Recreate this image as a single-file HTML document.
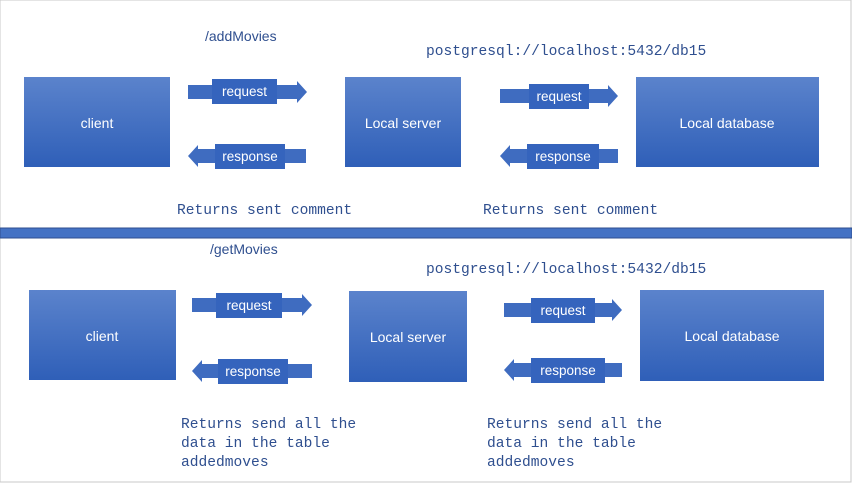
<!DOCTYPE html>
<html><head><meta charset="utf-8"><style>
body{margin:0;background:#fff}
svg{display:block}
.m{font-family:"Liberation Mono",monospace;font-size:14.6px;fill:#2f4f8f}
.s{font-family:"Liberation Sans",sans-serif;fill:#2f4f8f;font-size:14px}
.w{font-family:"Liberation Sans",sans-serif;fill:#fff;font-size:13.5px;text-anchor:middle}
.b{font-family:"Liberation Sans",sans-serif;fill:#fff;font-size:14px;text-anchor:middle}
</style></head><body>
<svg width="852" height="483" viewBox="0 0 852 483" xmlns="http://www.w3.org/2000/svg">
<defs>
<linearGradient id="g" x1="0" y1="0" x2="0" y2="1"><stop offset="0" stop-color="#5b83cc"/><stop offset="1" stop-color="#2f5fb8"/></linearGradient>
</defs>
<rect x="0" y="0" width="851" height="482" fill="#fff" stroke="#c8c8c8"/>
<rect x="0" y="228" width="852" height="10" fill="#4472c4" stroke="#2f4f8f" stroke-width="1"/>
<g fill="url(#g)">
<rect x="24" y="77" width="146" height="90"/>
<rect x="345" y="77" width="116" height="90"/>
<rect x="636" y="77" width="183" height="90"/>
<rect x="29" y="290" width="147" height="90"/>
<rect x="349" y="291" width="118" height="91"/>
<rect x="640" y="290" width="184" height="91"/>
</g>
<text class="b" x="97" y="128">client</text>
<text class="b" x="403" y="128">Local server</text>
<text class="b" x="727" y="128">Local database</text>
<text class="b" x="102" y="341">client</text>
<text class="b" x="408" y="342">Local server</text>
<text class="b" x="732" y="341">Local database</text>
<g fill="#3f6cc0">
<polygon points="188,85 297,85 297,81 307,92 297,103 297,99 188,99"/>
<polygon points="306,149 198,149 198,145 188,156 198,167 198,163 306,163"/>
<polygon points="500,89 608,89 608,85 618,96 608,107 608,103 500,103"/>
<polygon points="618,149 510,149 510,145 500,156 510,167 510,163 618,163"/>
<polygon points="192,298 302,298 302,294 312,305 302,316 302,312 192,312"/>
<polygon points="312,364 202,364 202,360 192,371 202,382 202,378 312,378"/>
<polygon points="504,303 612,303 612,299 622,310 612,321 612,317 504,317"/>
<polygon points="622,363 514,363 514,359 504,370 514,381 514,377 622,377"/>
</g>
<g fill="#3564bd">
<rect x="212" y="79" width="65" height="25"/>
<rect x="215" y="144" width="70" height="25"/>
<rect x="529" y="84" width="60" height="25"/>
<rect x="527" y="144" width="72" height="25"/>
<rect x="216" y="293" width="66" height="25"/>
<rect x="218" y="359" width="70" height="25"/>
<rect x="531" y="298" width="64" height="25"/>
<rect x="531" y="358" width="74" height="25"/>
</g>
<text class="w" x="244.5" y="96">request</text>
<text class="w" x="250" y="161">response</text>
<text class="w" x="559" y="101">request</text>
<text class="w" x="563" y="161">response</text>
<text class="w" x="249" y="310">request</text>
<text class="w" x="253" y="376">response</text>
<text class="w" x="563" y="315">request</text>
<text class="w" x="568" y="375">response</text>
<text class="s" x="205" y="41">/addMovies</text>
<text class="s" x="210" y="254">/getMovies</text>
<text class="m" x="426" y="55">postgresql://localhost:5432/db15</text>
<text class="m" x="426" y="273">postgresql://localhost:5432/db15</text>
<text class="m" x="177" y="214">Returns sent comment</text>
<text class="m" x="483" y="214">Returns sent comment</text>
<text class="m" x="181" y="428">Returns send all the</text>
<text class="m" x="181" y="447">data in the table</text>
<text class="m" x="181" y="466">addedmoves</text>
<text class="m" x="487" y="428">Returns send all the</text>
<text class="m" x="487" y="447">data in the table</text>
<text class="m" x="487" y="466">addedmoves</text>
</svg>
</body></html>
